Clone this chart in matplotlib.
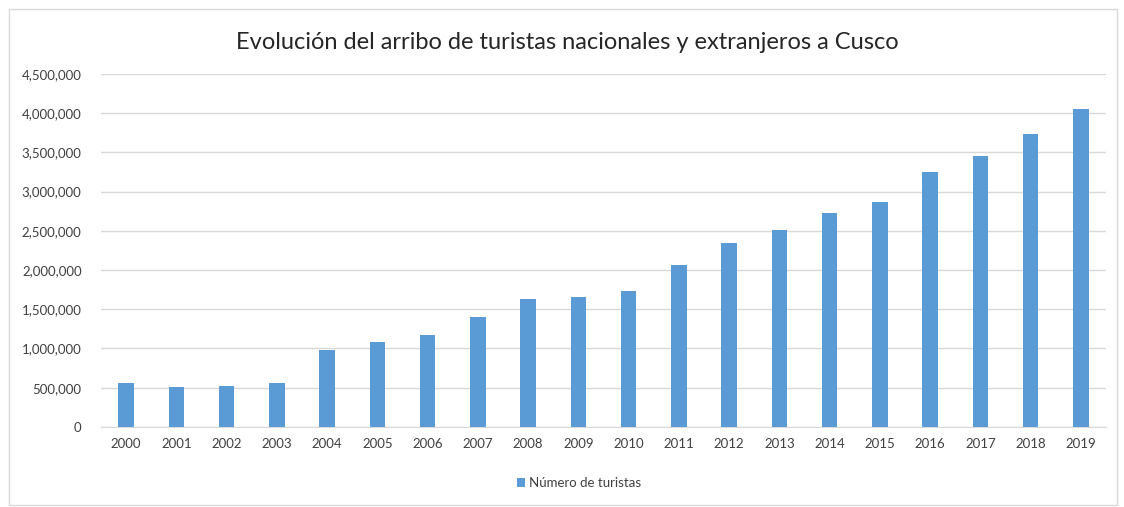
import numpy as np
import matplotlib.pyplot as plt
from matplotlib.patches import Rectangle
from matplotlib.ticker import FuncFormatter

years = [str(y) for y in range(2000, 2020)]
turistas = [557000, 506000, 523000, 557000, 982000, 1088000, 1170000, 1403000,
            1637000, 1658000, 1739000, 2066000, 2351000, 2513000, 2730000,
            2874000, 3253000, 3457000, 3737000, 4052000]

plt.rcParams["font.family"] = ["Lato", "DejaVu Sans"]

fig = plt.figure(figsize=(11.24, 5.07), dpi=100)
ax = fig.add_axes([0.0899, 0.158, 0.894, 0.696])

# light frame around the chart area
fig.patches.append(Rectangle((9 / 1124, 2 / 507), 1108 / 1124, 496 / 507,
                             transform=fig.transFigure, fill=False,
                             edgecolor="#d9d9d9", linewidth=1))

x = np.arange(len(years))
ax.bar(x, turistas, width=0.31, color="#5b9bd5", label="Número de turistas", zorder=3)

ax.set_xlim(-0.5, len(years) - 0.5)
ax.set_ylim(0, 4500000)
ax.set_yticks(np.arange(0, 4500001, 500000))
ax.yaxis.set_major_formatter(FuncFormatter(lambda v, p: f"{int(v):,}"))
ax.set_xticks(x)
ax.set_xticklabels(years)

ax.grid(axis="y", color="#d9d9d9", linewidth=1, zorder=0)
for s in ["top", "right", "left"]:
    ax.spines[s].set_visible(False)
ax.spines["bottom"].set_color("#d9d9d9")
ax.tick_params(axis="both", length=0, labelsize=9.5, labelcolor="#404040")
ax.tick_params(axis="x", pad=8)
ax.tick_params(axis="y", pad=14)

fig.text(0.505, 0.917, "Evolución del arribo de turistas nacionales y extranjeros a Cusco",
         ha="center", va="center", fontsize=17, color="#262626")

fig.legend(*ax.get_legend_handles_labels(), loc="center",
           bbox_to_anchor=(0.515, 0.047), frameon=False, fontsize=9.5,
           handlelength=0.6, handleheight=0.6, handletextpad=0.3,
           labelcolor="#404040")

fig.savefig("out.png", dpi=100)
plt.close(fig)
